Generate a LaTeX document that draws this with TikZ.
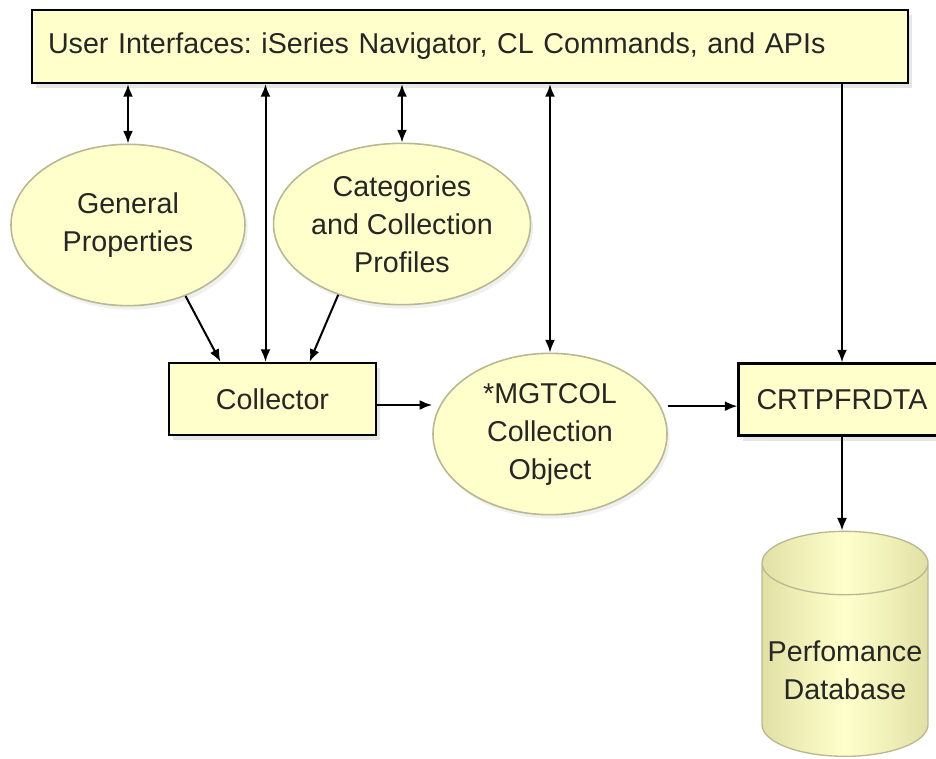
\documentclass[tikz,border=0pt]{standalone}
\usepackage{fontspec}
\setmainfont{Liberation Sans}
\usepackage{tikz}
\usetikzlibrary{shapes.geometric, shadows, arrows.meta}
\frenchspacing

\definecolor{paleyellow}{RGB}{255,255,204}
\definecolor{rimgray}{RGB}{185,185,145}
\definecolor{dbedge}{RGB}{225,225,165}

\tikzset{
    box/.style={rectangle, draw=black, line width=1.6pt, fill=paleyellow,
        minimum width=155.25pt, minimum height=54pt,
        drop shadow={opacity=0.2, shadow xshift=3pt, shadow yshift=-4pt}},
    blob/.style={ellipse, draw=rimgray, line width=1.2pt, fill=paleyellow,
        minimum width=175.5pt, minimum height=121pt, align=center, inner sep=0pt,
        drop shadow={opacity=0.12, shadow xshift=2pt, shadow yshift=-3pt}},
    store/.style={cylinder, shape border rotate=90, aspect=0.41, draw=rimgray,
        line width=1pt, minimum width=124.5pt, minimum height=168.75pt,
        align=center, inner sep=0pt,
        left color=dbedge, right color=dbedge, middle color=paleyellow}
}

\begin{document}
\begin{tikzpicture}[>={Latex[length=9.5pt,width=7.5pt]}, x=0.75pt, y=-0.75pt, line width=1.5pt,
    font=\fontsize{21.5}{28.5}\selectfont, text=black!85]
    \path[use as bounding box, clip] (0,0) rectangle (936,759);

    \node[box, text width=633pt, align=left, inner xsep=12pt, minimum height=54.75pt] (ui) at (470,46.5)
        {User Interfaces: iSeries Navigator, CL Commands, and APIs};
    \node[blob] (gp) at (128,225) {General\\Properties};
    \node[blob] (cat) at (402,224) {Categories\\and Collection\\Profiles};
    \node[box] (col) at (272.5,399) {Collector};
    \node[blob] (mgt) at (550,434) {*MGTCOL\\Collection\\Object};
    \node[box] (crt) at (842,399.5) {CRTPFRDTA};
    \node[store] (db) at (845,660) {\rule{0pt}{31pt}Perfomance\\Database};

    \coordinate (colin) at ([xshift=-5.25pt]col.north);
    \coordinate (colout) at ([yshift=-4.5pt]col.east);
    \coordinate (crtin) at ([yshift=-5pt]crt.west);

    \path[<->]
    (ui.south -| gp.north) edge (gp.north)
    (ui.south -| colin) edge (colin)
    (ui.south -| cat.north) edge (cat.north)
    (ui.south -| mgt.north) edge (mgt.north);

    \path[->]
    (ui.south -| crt.north) edge (crt.north)
    (gp.-51) edge ([xshift=-39pt]col.north)
    (cat.-132) edge ([xshift=27.75pt]col.north)
    (colout) edge (colout -| mgt.west)
    (crtin -| mgt.east) edge (crtin)
    (crt.south) edge (crt.south |- db.north);
\end{tikzpicture}
\end{document}
